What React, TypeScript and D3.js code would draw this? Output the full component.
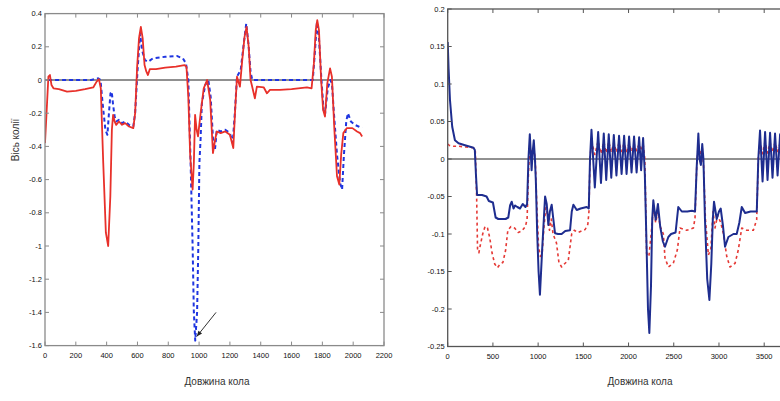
import React from 'react';
import * as d3 from 'd3';

const W = 780;
const H = 401;

// ---------- tick values ----------
const leftXTicks = [0, 200, 400, 600, 800, 1000, 1200, 1400, 1600, 1800, 2000, 2200];
const leftYTicks = [0.4, 0.2, 0, -0.2, -0.4, -0.6, -0.8, -1, -1.2, -1.4, -1.6];
const rightXTicks = [0, 500, 1000, 1500, 2000, 2500, 3000, 3500];
const rightYTicks = [0.2, 0.15, 0.1, 0.05, 0, -0.05, -0.1, -0.15, -0.2, -0.25];

const xLabel = 'Довжина кола';
const leftYLabel = 'Вісь колії';

// ---------- left panel series ----------
const leftRed: [number, number][] = [
  [0, -0.38], [10, -0.2], [22, 0.02], [32, 0.03], [42, -0.03], [55, -0.05], [90, -0.055],
  [143, -0.07], [200, -0.065], [260, -0.055], [313, -0.045], [335, -0.01], [350, 0.005],
  [362, -0.05], [378, -0.5], [395, -0.92], [410, -1.0], [424, -0.7], [434, -0.3],
  [442, -0.21], [452, -0.25], [462, -0.27], [480, -0.25], [500, -0.27], [520, -0.26],
  [545, -0.28], [573, -0.29], [585, -0.2], [598, 0.08], [610, 0.25], [622, 0.32],
  [634, 0.25], [646, 0.09], [658, 0.05], [668, 0.03], [680, 0.065], [720, 0.065],
  [780, 0.075], [850, 0.08], [905, 0.09], [918, 0.08], [930, -0.1], [942, -0.45],
  [958, -0.66], [966, -0.5], [974, -0.21], [984, -0.3], [993, -0.34], [1010, -0.2],
  [1030, -0.05], [1052, 0.0], [1072, -0.12], [1090, -0.44], [1104, -0.36], [1115, -0.31],
  [1140, -0.32], [1170, -0.31], [1200, -0.33], [1222, -0.41], [1233, -0.2], [1246, 0.02],
  [1265, -0.04], [1280, 0.12], [1295, 0.26], [1308, 0.32], [1322, 0.2], [1334, 0.0],
  [1342, -0.03], [1362, -0.11], [1375, -0.04], [1420, -0.045], [1440, -0.08],
  [1460, -0.06], [1525, -0.06], [1600, -0.055], [1700, -0.045], [1730, -0.05],
  [1745, 0.1], [1757, 0.3], [1767, 0.36], [1778, 0.3], [1792, 0.0], [1805, -0.18],
  [1817, -0.22], [1832, -0.02], [1850, 0.07], [1862, 0.02], [1878, -0.3], [1895, -0.58],
  [1910, -0.63], [1922, -0.45], [1936, -0.32], [1958, -0.29], [1995, -0.29],
  [2025, -0.31], [2045, -0.32], [2058, -0.34],
];

const leftBlue: [number, number][] = [
  [20, 0.0], [100, 0.0], [200, 0.0], [300, 0.0], [345, 0.01], [360, 0.0], [375, -0.15],
  [392, -0.3], [405, -0.33], [415, -0.2], [425, -0.08], [433, -0.07], [442, -0.15],
  [452, -0.22], [462, -0.25], [480, -0.24], [500, -0.26], [520, -0.25], [545, -0.27],
  [573, -0.28], [585, -0.2], [600, 0.05], [617, 0.28], [630, 0.18], [648, 0.12],
  [670, 0.11], [700, 0.13], [780, 0.14], [855, 0.145], [895, 0.13], [915, 0.1],
  [930, 0.0], [945, -0.5], [958, -1.0], [966, -1.4], [975, -1.57], [987, -1.4],
  [995, -1.0], [1002, -0.5], [1010, -0.35], [1018, -0.14], [1040, -0.03], [1060, 0.0],
  [1075, -0.1], [1090, -0.35], [1103, -0.42], [1115, -0.3], [1140, -0.31], [1170, -0.3],
  [1200, -0.32], [1218, -0.38], [1232, -0.2], [1246, 0.02], [1270, 0.06], [1290, 0.22],
  [1306, 0.34], [1320, 0.22], [1334, 0.05], [1345, 0.0], [1500, 0.0], [1650, 0.0],
  [1738, 0.0], [1750, 0.15], [1765, 0.35], [1778, 0.25], [1794, 0.0], [1808, -0.18],
  [1817, -0.21], [1835, -0.05], [1852, 0.0], [1862, -0.02], [1875, -0.2], [1895, -0.45],
  [1915, -0.62], [1928, -0.66], [1940, -0.45], [1955, -0.25], [1966, -0.2],
  [1985, -0.25], [2010, -0.27], [2035, -0.28], [2058, -0.29],
];

// annotation arrow (data coordinates)
const arrowFrom: [number, number] = [1110, -1.4];
const arrowTo: [number, number] = [985, -1.545];

// ---------- right panel series ----------
const rightBlue: [number, number][] = [
  [0, 0.156], [10, 0.12], [25, 0.079], [50, 0.043], [80, 0.025], [120, 0.021],
  [200, 0.018], [285, 0.015], [300, 0.012], [312, -0.02], [325, -0.048], [380, -0.048],
  [430, -0.05], [455, -0.056], [500, -0.058], [530, -0.078], [560, -0.08], [640, -0.08],
  [670, -0.078], [690, -0.062], [708, -0.057], [728, -0.066], [745, -0.062], [770, -0.064],
  [800, -0.066], [830, -0.06], [860, -0.064], [878, -0.06], [893, 0.0], [908, 0.033],
  [918, 0.01], [928, -0.015], [940, 0.01], [952, 0.025], [965, 0.0], [975, -0.03],
  [990, -0.1], [1005, -0.15], [1020, -0.181], [1045, -0.12], [1077, -0.05], [1095, -0.06],
  [1113, -0.088], [1130, -0.07], [1150, -0.061], [1168, -0.08], [1187, -0.099],
  [1220, -0.1], [1260, -0.1], [1300, -0.096], [1353, -0.095], [1372, -0.07],
  [1390, -0.061], [1427, -0.068], [1470, -0.066], [1537, -0.064], [1560, -0.066],
  [1574, 0.0], [1590, 0.039], [1627, -0.038], [1664, 0.036], [1695, -0.032],
  [1726, 0.034], [1753, -0.028], [1781, 0.033], [1809, -0.025], [1837, 0.032],
  [1866, -0.022], [1895, 0.031], [1923, -0.02], [1951, 0.031], [1978, -0.02],
  [2006, 0.03], [2033, -0.018], [2061, 0.03], [2089, -0.018], [2117, 0.029],
  [2139, -0.015], [2161, 0.028], [2180, -0.02], [2200, -0.12], [2215, -0.2],
  [2230, -0.232], [2248, -0.17], [2262, -0.08], [2274, -0.055], [2300, -0.081],
  [2325, -0.06], [2350, -0.09], [2380, -0.11], [2403, -0.117], [2440, -0.104],
  [2470, -0.1], [2520, -0.098], [2550, -0.064], [2589, -0.07], [2650, -0.07],
  [2700, -0.069], [2735, -0.07], [2754, -0.01], [2772, 0.034], [2785, 0.0],
  [2800, -0.008], [2815, 0.02], [2828, 0.0], [2845, -0.08], [2870, -0.16],
  [2894, -0.188], [2915, -0.14], [2932, -0.08], [2945, -0.057], [2975, -0.08],
  [3000, -0.07], [3019, -0.066], [3045, -0.09], [3067, -0.117], [3104, -0.104],
  [3160, -0.1], [3196, -0.1], [3225, -0.085], [3252, -0.064], [3289, -0.072],
  [3350, -0.07], [3418, -0.07], [3435, 0.0], [3454, 0.038], [3482, -0.03],
  [3510, 0.036], [3537, -0.028], [3565, 0.035], [3592, -0.025], [3620, 0.034],
  [3648, -0.022], [3676, 0.033], [3703, -0.02], [3730, 0.032],
];

const rightRed: [number, number][] = [
  [0, 0.02], [20, 0.018], [60, 0.017], [120, 0.017], [200, 0.016], [285, 0.015],
  [305, 0.012], [320, -0.05], [330, -0.12], [345, -0.125], [357, -0.117], [387, -0.1],
  [413, -0.09], [440, -0.092], [465, -0.105], [490, -0.125], [520, -0.14], [550, -0.145],
  [580, -0.14], [610, -0.138], [640, -0.122], [665, -0.095], [700, -0.09], [740, -0.092],
  [780, -0.098], [820, -0.096], [860, -0.09], [878, -0.08], [893, -0.02], [908, 0.02],
  [920, 0.008], [935, 0.015], [955, 0.012], [968, 0.0], [985, -0.06], [1005, -0.117],
  [1025, -0.13], [1045, -0.125], [1065, -0.09], [1085, -0.065], [1105, -0.075],
  [1125, -0.095], [1145, -0.08], [1165, -0.1], [1203, -0.112], [1230, -0.138],
  [1260, -0.144], [1290, -0.14], [1334, -0.135], [1355, -0.115], [1371, -0.1],
  [1400, -0.095], [1440, -0.098], [1480, -0.096], [1520, -0.094], [1550, -0.087],
  [1562, -0.07], [1574, 0.0], [1590, 0.024], [1627, 0.006], [1664, 0.024], [1695, 0.007],
  [1726, 0.023], [1753, 0.008], [1781, 0.023], [1809, 0.009], [1837, 0.022],
  [1866, 0.009], [1895, 0.022], [1923, 0.01], [1951, 0.021], [1978, 0.01],
  [2006, 0.021], [2033, 0.01], [2061, 0.02], [2089, 0.011], [2117, 0.02],
  [2139, 0.011], [2161, 0.02], [2180, 0.0], [2200, -0.126], [2225, -0.13],
  [2250, -0.1], [2275, -0.065], [2300, -0.085], [2325, -0.07], [2350, -0.09],
  [2385, -0.1], [2403, -0.132], [2440, -0.144], [2495, -0.139], [2540, -0.121],
  [2569, -0.092], [2643, -0.095], [2717, -0.092], [2735, -0.079], [2754, -0.01],
  [2772, 0.022], [2790, 0.005], [2815, 0.015], [2830, -0.01], [2850, -0.08],
  [2883, -0.128], [2910, -0.12], [2935, -0.07], [2956, -0.092], [2985, -0.075],
  [3020, -0.085], [3048, -0.099], [3086, -0.13], [3122, -0.144], [3178, -0.139],
  [3214, -0.121], [3252, -0.092], [3307, -0.095], [3380, -0.095], [3417, -0.081],
  [3435, 0.0], [3454, 0.024], [3482, 0.007], [3510, 0.023], [3537, 0.008],
  [3565, 0.022], [3592, 0.009], [3620, 0.022], [3648, 0.01], [3676, 0.021],
  [3703, 0.01], [3730, 0.02],
];

type Series = {
  data: [number, number][];
  color: string;
  width: number;
  dash?: string;
};

type PanelProps = {
  id: string;
  left: number;
  right: number;
  top: number;
  bottom: number;
  xDomain: [number, number];
  yDomain: [number, number];
  xTicks: number[];
  yTicks: number[];
  series: Series[];
  frameColor: string;
  zeroColor: string;
  zeroWidth: number;
  children?: (x: d3.ScaleLinear<number, number>, y: d3.ScaleLinear<number, number>) => React.ReactNode;
};

function Panel(p: PanelProps) {
  const x = d3.scaleLinear().domain(p.xDomain).range([p.left, p.right]);
  const y = d3.scaleLinear().domain(p.yDomain).range([p.bottom, p.top]);
  const line = d3
    .line<[number, number]>()
    .x((d) => x(d[0]))
    .y((d) => y(d[1]))
    .curve(d3.curveLinear);
  const tl = 4;
  const font = "'Liberation Sans', Arial, sans-serif";
  return (
    <g>
      <defs>
        <clipPath id={`clip-${p.id}`}>
          <rect x={p.left} y={p.top - 2} width={p.right - p.left} height={p.bottom - p.top + 4} />
        </clipPath>
      </defs>
      <line
        x1={p.left}
        x2={p.right}
        y1={y(0)}
        y2={y(0)}
        stroke={p.zeroColor}
        strokeWidth={p.zeroWidth}
      />
      <g clipPath={`url(#clip-${p.id})`}>
        {p.series.map((s, i) => (
          <path
            key={i}
            d={line(s.data) || ''}
            fill="none"
            stroke={s.color}
            strokeWidth={s.width}
            strokeDasharray={s.dash}
            strokeLinejoin="round"
          />
        ))}
      </g>
      <rect
        x={p.left}
        y={p.top}
        width={p.right - p.left}
        height={p.bottom - p.top}
        fill="none"
        stroke={p.frameColor}
        strokeWidth={1.3}
      />
      {p.xTicks.map((t) => (
        <g key={`x${t}`}>
          <line x1={x(t)} x2={x(t)} y1={p.bottom} y2={p.bottom - tl} stroke={p.frameColor} strokeWidth={1} />
          <line x1={x(t)} x2={x(t)} y1={p.top} y2={p.top + tl} stroke={p.frameColor} strokeWidth={1} />
          <text
            x={x(t)}
            y={p.bottom + 12}
            textAnchor="middle"
            fontSize={7.5}
            fontFamily={font}
            fill="#111"
          >
            {String(t)}
          </text>
        </g>
      ))}
      {p.yTicks.map((t) => (
        <g key={`y${t}`}>
          <line x1={p.left} x2={p.left + tl} y1={y(t)} y2={y(t)} stroke={p.frameColor} strokeWidth={1} />
          <line x1={p.right} x2={p.right - tl} y1={y(t)} y2={y(t)} stroke={p.frameColor} strokeWidth={1} />
          <text
            x={p.left - 3}
            y={y(t) + 2.5}
            textAnchor="end"
            fontSize={7.5}
            fontFamily={font}
            fill="#111"
          >
            {String(t)}
          </text>
        </g>
      ))}
      {p.children ? p.children(x, y) : null}
    </g>
  );
}

export default function App() {
  const font = "'Liberation Sans', Arial, sans-serif";
  return (
    <svg
      width={W}
      height={H}
      viewBox={`0 0 ${W} ${H}`}
      style={{ position: 'absolute', left: 0, top: 0, background: '#fff' }}
    >
      <rect x={0} y={0} width={W} height={H} fill="#fff" />
      <Panel
        id="left"
        left={45}
        right={384}
        top={13.6}
        bottom={345.6}
        xDomain={[0, 2200]}
        yDomain={[-1.6, 0.4]}
        xTicks={leftXTicks}
        yTicks={leftYTicks}
        frameColor="#8a8a8a"
        zeroColor="#909090"
        zeroWidth={2}
        series={[
          { data: leftBlue, color: '#1f35e0', width: 2, dash: '4,3' },
          { data: leftRed, color: '#e8302a', width: 1.8 },
        ]}
      >
        {(x, y) => {
          const x1 = x(arrowFrom[0]);
          const y1 = y(arrowFrom[1]);
          const x2 = x(arrowTo[0]);
          const y2 = y(arrowTo[1]);
          const ang = Math.atan2(y2 - y1, x2 - x1);
          const L = 6;
          const a1 = ang + Math.PI - 0.4;
          const a2 = ang + Math.PI + 0.4;
          return (
            <g>
              <line x1={x1} y1={y1} x2={x2} y2={y2} stroke="#333" strokeWidth={1} />
              <polygon
                points={`${x2},${y2} ${x2 + L * Math.cos(a1)},${y2 + L * Math.sin(a1)} ${x2 + L * Math.cos(a2)},${y2 + L * Math.sin(a2)}`}
                fill="#222"
              />
            </g>
          );
        }}
      </Panel>
      <Panel
        id="right"
        left={447.7}
        right={809.4}
        top={9}
        bottom={346.5}
        xDomain={[0, 4000]}
        yDomain={[-0.25, 0.2]}
        xTicks={rightXTicks}
        yTicks={rightYTicks}
        frameColor="#555"
        zeroColor="#222"
        zeroWidth={1}
        series={[
          { data: rightRed, color: '#e53935', width: 1.6, dash: '3,3' },
          { data: rightBlue, color: '#1e2d8f', width: 2 },
        ]}
      />
      <text x={217} y={385} textAnchor="middle" fontSize={10} fontFamily={font} fill="#333">
        {xLabel}
      </text>
      <text x={640} y={385} textAnchor="middle" fontSize={10} fontFamily={font} fill="#333">
        {xLabel}
      </text>
      <text
        transform="translate(19,140) rotate(-90)"
        textAnchor="middle"
        fontSize={10}
        fontFamily={font}
        fill="#333"
      >
        {leftYLabel}
      </text>
    </svg>
  );
}
